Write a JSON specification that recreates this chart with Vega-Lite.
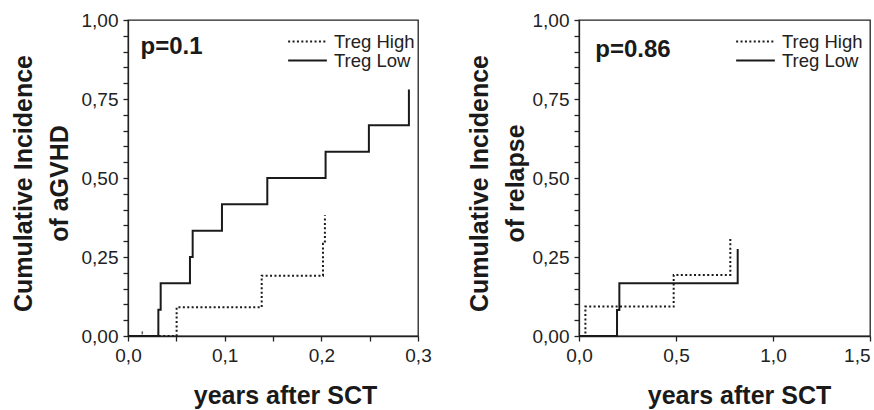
{
  "$schema": "https://vega.github.io/schema/vega-lite/v6.json",
  "padding": {"left": 10, "top": 10, "right": 2, "bottom": 0},
  "spacing": 34,
  "datasets": {
    "gvhd": [
      {"group": "Treg High", "years": 0, "ci": 0},
      {"group": "Treg High", "years": 0.0503, "ci": 0.091},
      {"group": "Treg High", "years": 0.1383, "ci": 0.191},
      {"group": "Treg High", "years": 0.2017, "ci": 0.292},
      {"group": "Treg High", "years": 0.2037, "ci": 0.382},
      {"group": "Treg Low", "years": 0, "ci": 0},
      {"group": "Treg Low", "years": 0.0314, "ci": 0.083},
      {"group": "Treg Low", "years": 0.0338, "ci": 0.167},
      {"group": "Treg Low", "years": 0.0641, "ci": 0.25},
      {"group": "Treg Low", "years": 0.0669, "ci": 0.333},
      {"group": "Treg Low", "years": 0.0972, "ci": 0.417},
      {"group": "Treg Low", "years": 0.1441, "ci": 0.5},
      {"group": "Treg Low", "years": 0.2044, "ci": 0.583},
      {"group": "Treg Low", "years": 0.2492, "ci": 0.667},
      {"group": "Treg Low", "years": 0.2906, "ci": 0.78}
    ],
    "gvhdCensor": [
      {"group": "Treg High", "years": 0.0148, "ci": 0.01}
    ],
    "relapse": [
      {"group": "Treg High", "years": 0, "ci": 0},
      {"group": "Treg High", "years": 0.033, "ci": 0.093},
      {"group": "Treg High", "years": 0.488, "ci": 0.193},
      {"group": "Treg High", "years": 0.78, "ci": 0.309},
      {"group": "Treg Low", "years": 0, "ci": 0},
      {"group": "Treg Low", "years": 0.196, "ci": 0.082},
      {"group": "Treg Low", "years": 0.208, "ci": 0.167},
      {"group": "Treg Low", "years": 0.818, "ci": 0.275}
    ],
    "pGvhd": [{"p": "p=0.1"}],
    "pRelapse": [{"p": "p=0.86"}]
  },
  "hconcat": [
    {
      "width": 290,
      "height": 316,
      "layer": [
        {
          "data": {"name": "gvhd"},
          "mark": {"type": "line", "interpolate": "step-after", "strokeWidth": 2, "color": "#1a1a1a"},
          "encoding": {
            "x": {
              "field": "years", "type": "quantitative",
              "scale": {"domain": [0, 0.3], "nice": false, "zero": false},
              "title": "years after SCT",
              "axis": {
                "values": [0, 0.05, 0.1, 0.15, 0.2, 0.25, 0.3],
                "labelExpr": "(round(datum.value*100) % 10 == 0) ? replace(format(datum.value, '.1f'), '.', ',') : ''",
                "labelOverlap": false,
                "titleX": 157, "titlePadding": 18
              }
            },
            "y": {
              "field": "ci", "type": "quantitative",
              "scale": {"domain": [0, 1], "nice": false},
              "title": ["Cumulative Incidence", "of aGVHD"],
              "axis": {
                "values": [0, 0.05, 0.1, 0.15, 0.2, 0.25, 0.3, 0.35, 0.4, 0.45, 0.5, 0.55, 0.6, 0.65, 0.7, 0.75, 0.8, 0.85, 0.9, 0.95, 1],
                "labelExpr": "(round(datum.value*100) % 25 == 0) ? replace(format(datum.value, '.2f'), '.', ',') : ''",
                "labelOverlap": false,
                "titlePadding": 9, "titleY": 163
              }
            },
            "strokeDash": {
              "field": "group", "type": "nominal",
              "scale": {"domain": ["Treg High", "Treg Low"], "range": [[2, 2.4], [1, 0]]},
              "legend": {"orient": "none", "legendX": 159, "legendY": 13}
            }
          }
        },
        {
          "data": {"name": "gvhdCensor"},
          "mark": {"type": "tick", "orient": "vertical", "size": 3, "thickness": 1.5, "color": "#1a1a1a"},
          "encoding": {
            "x": {
              "field": "years", "type": "quantitative",
              "scale": {"domain": [0, 0.3], "nice": false, "zero": false},
              "title": "years after SCT",
              "axis": {
                "values": [0, 0.05, 0.1, 0.15, 0.2, 0.25, 0.3],
                "labelExpr": "(round(datum.value*100) % 10 == 0) ? replace(format(datum.value, '.1f'), '.', ',') : ''",
                "labelOverlap": false,
                "titleX": 157, "titlePadding": 18
              }
            },
            "y": {
              "field": "ci", "type": "quantitative",
              "scale": {"domain": [0, 1], "nice": false},
              "title": ["Cumulative Incidence", "of aGVHD"],
              "axis": {
                "values": [0, 0.05, 0.1, 0.15, 0.2, 0.25, 0.3, 0.35, 0.4, 0.45, 0.5, 0.55, 0.6, 0.65, 0.7, 0.75, 0.8, 0.85, 0.9, 0.95, 1],
                "labelExpr": "(round(datum.value*100) % 25 == 0) ? replace(format(datum.value, '.2f'), '.', ',') : ''",
                "labelOverlap": false,
                "titlePadding": 9, "titleY": 163
              }
            }
          }
        },
        {
          "data": {"name": "pGvhd"},
          "mark": {"type": "text", "align": "left", "baseline": "alphabetic", "fontSize": 24, "fontWeight": "bold", "font": "Liberation Sans", "color": "#1a1a1a"},
          "encoding": {
            "x": {
              "datum": 0.013, "type": "quantitative",
              "scale": {"domain": [0, 0.3], "nice": false, "zero": false},
              "title": "years after SCT",
              "axis": {
                "values": [0, 0.05, 0.1, 0.15, 0.2, 0.25, 0.3],
                "labelExpr": "(round(datum.value*100) % 10 == 0) ? replace(format(datum.value, '.1f'), '.', ',') : ''",
                "labelOverlap": false,
                "titleX": 157, "titlePadding": 18
              }
            },
            "y": {
              "datum": 0.893, "type": "quantitative",
              "scale": {"domain": [0, 1], "nice": false},
              "title": ["Cumulative Incidence", "of aGVHD"],
              "axis": {
                "values": [0, 0.05, 0.1, 0.15, 0.2, 0.25, 0.3, 0.35, 0.4, 0.45, 0.5, 0.55, 0.6, 0.65, 0.7, 0.75, 0.8, 0.85, 0.9, 0.95, 1],
                "labelExpr": "(round(datum.value*100) % 25 == 0) ? replace(format(datum.value, '.2f'), '.', ',') : ''",
                "labelOverlap": false,
                "titlePadding": 9, "titleY": 163
              }
            },
            "text": {"field": "p"}
          }
        }
      ]
    },
    {
      "width": 291,
      "height": 316,
      "layer": [
        {
          "data": {"name": "relapse"},
          "mark": {"type": "line", "interpolate": "step-after", "strokeWidth": 2, "color": "#1a1a1a"},
          "encoding": {
            "x": {
              "field": "years", "type": "quantitative",
              "scale": {"domain": [0, 1.5], "nice": false, "zero": false},
              "title": "years after SCT",
              "axis": {
                "values": [0, 0.5, 1, 1.5],
                "labelExpr": "replace(format(datum.value, '.1f'), '.', ',')",
                "labelOverlap": false,
                "labelAlign": {"condition": {"test": "datum.value >= 1.5", "value": "right"}, "value": "center"},
                "titleX": 160, "titlePadding": 18
              }
            },
            "y": {
              "field": "ci", "type": "quantitative",
              "scale": {"domain": [0, 1], "nice": false},
              "title": ["Cumulative Incidence", "of relapse"],
              "axis": {
                "values": [0, 0.05, 0.1, 0.15, 0.2, 0.25, 0.3, 0.35, 0.4, 0.45, 0.5, 0.55, 0.6, 0.65, 0.7, 0.75, 0.8, 0.85, 0.9, 0.95, 1],
                "labelExpr": "(round(datum.value*100) % 25 == 0) ? replace(format(datum.value, '.2f'), '.', ',') : ''",
                "labelOverlap": false,
                "titlePadding": 4, "titleY": 163
              }
            },
            "strokeDash": {
              "field": "group", "type": "nominal",
              "scale": {"domain": ["Treg High", "Treg Low"], "range": [[2, 2.4], [1, 0]]},
              "legend": {"orient": "none", "legendX": 156, "legendY": 13}
            }
          }
        },
        {
          "data": {"name": "pRelapse"},
          "mark": {"type": "text", "align": "left", "baseline": "alphabetic", "fontSize": 24, "fontWeight": "bold", "font": "Liberation Sans", "color": "#1a1a1a"},
          "encoding": {
            "x": {
              "datum": 0.084, "type": "quantitative",
              "scale": {"domain": [0, 1.5], "nice": false, "zero": false},
              "title": "years after SCT",
              "axis": {
                "values": [0, 0.5, 1, 1.5],
                "labelExpr": "replace(format(datum.value, '.1f'), '.', ',')",
                "labelOverlap": false,
                "labelAlign": {"condition": {"test": "datum.value >= 1.5", "value": "right"}, "value": "center"},
                "titleX": 160, "titlePadding": 18
              }
            },
            "y": {
              "datum": 0.884, "type": "quantitative",
              "scale": {"domain": [0, 1], "nice": false},
              "title": ["Cumulative Incidence", "of relapse"],
              "axis": {
                "values": [0, 0.05, 0.1, 0.15, 0.2, 0.25, 0.3, 0.35, 0.4, 0.45, 0.5, 0.55, 0.6, 0.65, 0.7, 0.75, 0.8, 0.85, 0.9, 0.95, 1],
                "labelExpr": "(round(datum.value*100) % 25 == 0) ? replace(format(datum.value, '.2f'), '.', ',') : ''",
                "labelOverlap": false,
                "titlePadding": 4, "titleY": 163
              }
            },
            "text": {"field": "p"}
          }
        }
      ]
    }
  ],
  "resolve": {"legend": {"strokeDash": "independent"}, "scale": {"strokeDash": "independent"}},
  "config": {
    "font": "Liberation Sans",
    "background": "white",
    "view": {"stroke": "#222", "strokeWidth": 1.3},
    "axis": {
      "domainColor": "#222", "domainWidth": 1.3,
      "tickColor": "#222", "tickWidth": 1.3, "tickSize": 5,
      "labelColor": "#222", "labelFont": "Liberation Sans", "labelFontSize": 19, "labelPadding": 5,
      "labelFlush": false, "labelOverlap": false, "labelBound": false,
      "titleColor": "#1a1a1a", "titleFont": "Liberation Sans", "titleFontSize": 25, "titleFontWeight": "bold",
      "titleLineHeight": 36,
      "grid": false
    },
    "legend": {
      "title": null,
      "symbolType": "stroke", "symbolSize": 1500, "symbolStrokeWidth": 2, "symbolStrokeColor": "#1a1a1a",
      "labelFont": "Liberation Sans", "labelFontSize": 18.5, "labelColor": "#222", "labelOffset": 6,
      "clipHeight": 17, "rowPadding": 0, "padding": 0
    }
  }
}
